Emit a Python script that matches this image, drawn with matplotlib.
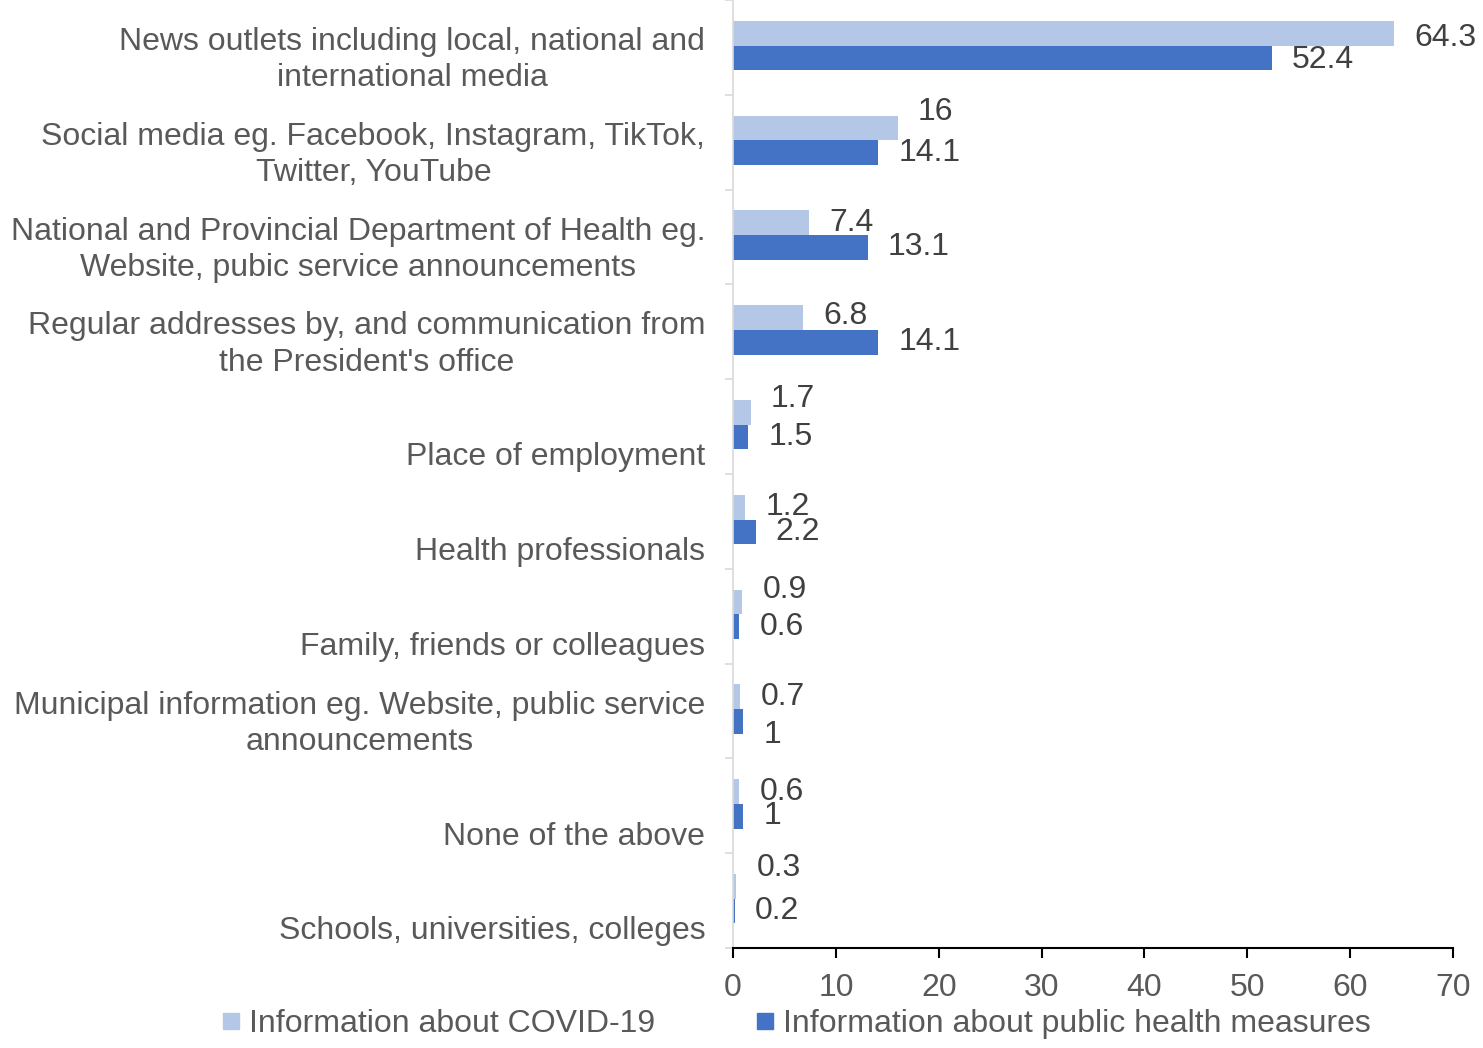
import numpy as np
import matplotlib
matplotlib.use("Agg")
import matplotlib.pyplot as plt
from matplotlib.lines import Line2D
from matplotlib.transforms import offset_copy

plt.rcParams['font.family'] = ['Liberation Sans', 'DejaVu Sans']

# Sources of information, top to bottom
categories = [
    "News outlets including local, national and\ninternational media",
    "Social media eg. Facebook, Instagram, TikTok,\nTwitter, YouTube",
    "National and Provincial Department of Health eg.\nWebsite, pubic service announcements",
    "Regular addresses by, and communication from\nthe President's office",
    "Place of employment",
    "Health professionals",
    "Family, friends or colleagues",
    "Municipal information eg. Website, public service\nannouncements",
    "None of the above",
    "Schools, universities, colleges",
]
covid_info = [64.3, 16, 7.4, 6.8, 1.7, 1.2, 0.9, 0.7, 0.6, 0.3]
measures_info = [52.4, 14.1, 13.1, 14.1, 1.5, 2.2, 0.6, 1, 1, 0.2]
covid_label = "Information about COVID-19"
measures_label = "Information about public health measures"
x_ticks = [0, 10, 20, 30, 40, 50, 60, 70]

# small vertical nudges (points) for value labels that sit off the bar centre
covid_nudge = [-3.5, 11.5, 0, 1.5, 9.5, 0, 8.5, 0, 0, 13.5]
measures_nudge = [-1.5, 0, 0, 0, 0, 0, 0, -9.5, 0, 0]

light = "#B4C7E7"
dark = "#4472C4"
text_grey = "#595959"
value_grey = "#404040"
fs = 23

fig = plt.figure(figsize=(14.83, 10.48), dpi=100)
ax = fig.add_axes([0.4943, 0.0954, 0.4855, 0.9046])

n = len(categories)
centers = np.arange(n) + 0.48
h = 0.26
ax.barh(centers - h / 2, covid_info, height=h, color=light)
ax.barh(centers + h / 2, measures_info, height=h, color=dark)

ax.set_xlim(0, 70)
ax.set_ylim(n, 0)

# value labels
for i in range(n):
    t = offset_copy(ax.transData, fig=fig, x=14.5, y=covid_nudge[i], units='points')
    ax.text(covid_info[i], centers[i] - h / 2, f"{covid_info[i]:g}", transform=t,
            ha='left', va='center', fontsize=fs, color=value_grey)
    t = offset_copy(ax.transData, fig=fig, x=14.5, y=measures_nudge[i], units='points')
    ax.text(measures_info[i], centers[i] + h / 2, f"{measures_info[i]:g}", transform=t,
            ha='left', va='center', fontsize=fs, color=value_grey)

# category labels sit near the bottom of each band
for i, cat in enumerate(categories):
    ax.text(-2.7, i + 0.91, cat, ha='right', va='baseline', multialignment='center',
            fontsize=fs, color=text_grey, linespacing=1.27,
            transform=ax.transData, clip_on=False)

ax.set_yticks(np.arange(n + 1))
ax.set_yticklabels([])
ax.tick_params(axis='y', length=6, color='#D9D9D9', width=1.2)
ax.set_xticks(x_ticks)
ax.set_xticklabels([str(v) for v in x_ticks])
ax.tick_params(axis='x', length=7, width=1.5, color='black', pad=11,
               labelsize=fs, labelcolor=text_grey)

for side in ['top', 'right']:
    ax.spines[side].set_visible(False)
ax.spines['left'].set_color('#D9D9D9')
ax.spines['left'].set_linewidth(1.2)
ax.spines['bottom'].set_color('black')
ax.spines['bottom'].set_linewidth(1.5)

handles = [Line2D([], [], marker='s', linestyle='none', markersize=11,
                  markerfacecolor=light, markeredgecolor=light),
           Line2D([], [], marker='s', linestyle='none', markersize=11,
                  markerfacecolor=dark, markeredgecolor=dark)]
leg = fig.legend(handles, [covid_label, measures_label], loc='center',
                 bbox_to_anchor=(797 / 1483, 1 - 1024 / 1048), ncol=2,
                 frameon=False, fontsize=fs, handlelength=0.5,
                 handletextpad=0.3, columnspacing=3.2, borderpad=0)
for txt in leg.get_texts():
    txt.set_color(text_grey)

fig.savefig("out.png", dpi=100)
